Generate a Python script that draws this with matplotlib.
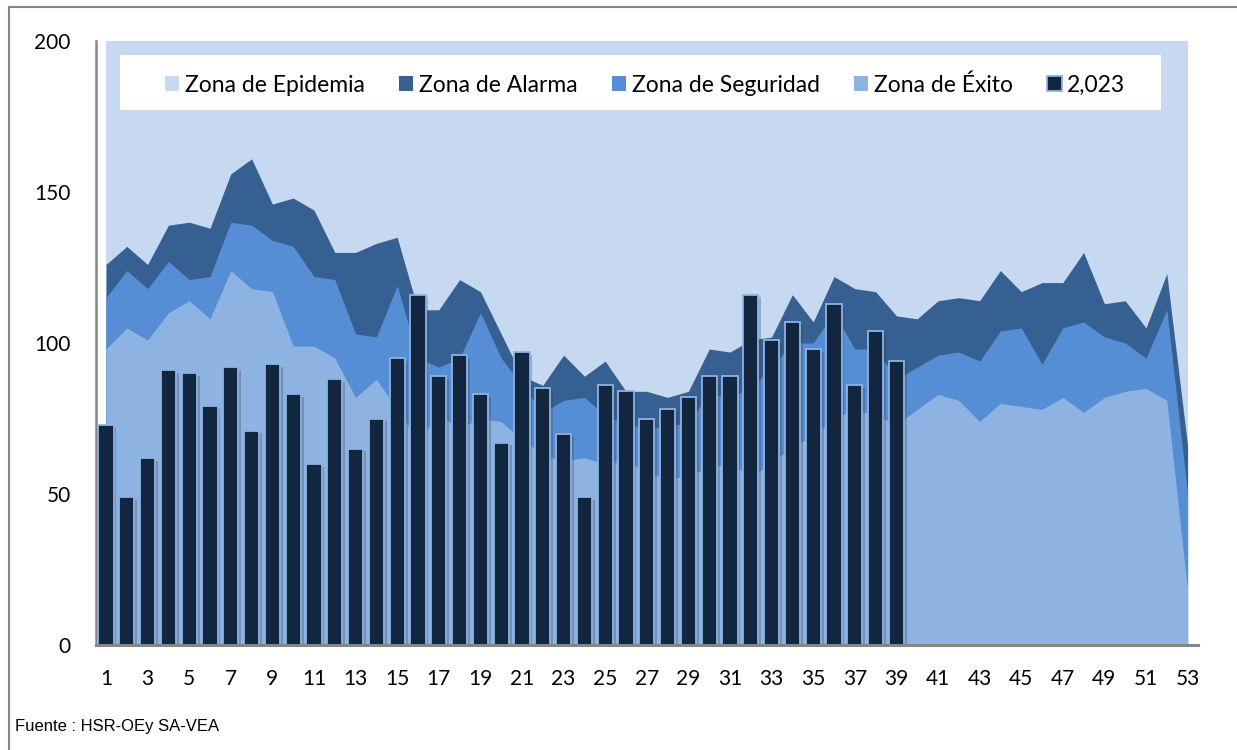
import matplotlib
matplotlib.use("Agg")
import matplotlib.pyplot as plt
from matplotlib.patches import Patch, Rectangle
from matplotlib.lines import Line2D
import matplotlib.patheffects as pe

# ---------------- data ----------------
weeks = list(range(1, 54))
week_labels = [str(w) if w % 2 == 1 else "" for w in weeks]

zona_alarma = [126, 132, 126, 139, 140, 138, 156, 161, 146, 148, 144, 130, 130, 133, 135,
               111, 111, 121, 117, 103, 89, 86, 96, 89, 94, 84, 84, 82, 84, 98, 97, 101,
               102, 116, 107, 122, 118, 117, 109, 108, 114, 115, 114, 124, 117, 120, 120,
               130, 113, 114, 105, 123, 66]
zona_seguridad = [115, 124, 118, 127, 121, 122, 140, 139, 134, 132, 122, 121, 103, 102, 119,
                  95, 92, 95, 110, 95, 86, 77, 81, 82, 76, 73, 72, 72, 74, 83, 82, 85, 92,
                  100, 100, 110, 98, 98, 88, 92, 96, 97, 94, 104, 105, 93, 105, 107, 102,
                  100, 95, 111, 50]
zona_exito = [98, 105, 101, 110, 114, 108, 124, 118, 117, 99, 99, 95, 82, 88, 78, 68, 76, 72,
              75, 74, 68, 63, 61, 62, 60, 61, 57, 55, 56, 59, 60, 56, 60, 66, 69, 75, 78, 76,
              73, 78, 83, 81, 74, 80, 79, 78, 82, 77, 82, 84, 85, 81, 18]
weeks_2023 = list(range(1, 40))
casos_2023 = [73, 49, 62, 91, 90, 79, 92, 71, 93, 83, 60, 88, 65, 75, 95, 116, 89, 96, 83, 67,
              97, 85, 70, 49, 86, 84, 75, 78, 82, 89, 89, 116, 101, 107, 98, 113, 86, 104, 94]

y_ticks = [0, 50, 100, 150, 200]
series_names = ["Zona de Epidemia", "Zona de Alarma", "Zona de Seguridad", "Zona de Éxito", "2,023"]

# ---------------- style ----------------
C_EPI = "#C6D9F1"
C_ALA = "#376092"
C_SEG = "#558ED5"
C_EXI = "#8DB3E2"
C_BAR = "#13263F"
C_BAR_EDGE = "#8DB3E2"
GRAY = "#868686"

plt.rcParams["font.family"] = ["Lato", "DejaVu Sans"]

W, H = 1237, 750
fig = plt.figure(figsize=(W / 100, H / 100), dpi=100)
ax = fig.add_axes([95.6 / W, 1 - 645 / H, (1198 - 95.6) / W, (645 - 41) / H])

ymax = y_ticks[-1]
ax.fill_between(weeks, 0, ymax, color=C_EPI, lw=0, zorder=1)
ax.fill_between(weeks, 0, zona_alarma, color=C_ALA, lw=0, zorder=1.1)
ax.fill_between(weeks, 0, zona_seguridad, color=C_SEG, lw=0, zorder=1.2)
ax.fill_between(weeks, 0, zona_exito, color=C_EXI, lw=0, zorder=1.3)

bars = ax.bar(weeks_2023, casos_2023, width=0.74, color=C_BAR, edgecolor=C_BAR_EDGE,
              linewidth=1.3, zorder=3)
for b in bars:
    b.set_path_effects([pe.SimplePatchShadow(offset=(2, -2), shadow_rgbFace="#404040", alpha=0.3),
                        pe.Normal()])

ax.set_xlim(0.5, 53.5)
ax.set_ylim(0, ymax)
ax.set_yticks(y_ticks)
ax.set_yticklabels([str(v) for v in y_ticks])
ax.set_xticks(weeks)
ax.set_xticklabels(week_labels)
ax.tick_params(axis="both", length=0, labelsize=15, colors="black")
ax.tick_params(axis="y", pad=18)
ax.tick_params(axis="x", pad=17)
ax.set_facecolor("white")
for s in ["top", "right"]:
    ax.spines[s].set_visible(False)
ax.spines["left"].set_color(GRAY)
ax.spines["left"].set_linewidth(1.8)
ax.spines["bottom"].set_color(GRAY)
ax.spines["bottom"].set_linewidth(2.2)
ax.spines["bottom"].set_zorder(4)

# legend box
ax.add_patch(Rectangle((0.022, 0.886), 0.944, 0.091, transform=ax.transAxes,
                       facecolor="white", edgecolor="none", zorder=5))
handles = [Patch(facecolor=C_EPI, edgecolor="none"),
           Patch(facecolor=C_ALA, edgecolor="none"),
           Patch(facecolor=C_SEG, edgecolor="none"),
           Patch(facecolor=C_EXI, edgecolor="none"),
           Patch(facecolor=C_BAR, edgecolor=C_BAR_EDGE, linewidth=1.3)]
leg = ax.legend(handles, series_names, ncol=5, loc="center",
                bbox_to_anchor=(0.4984, 0.927),
                frameon=False, fontsize=16.5, handlelength=0.62, handleheight=0.62,
                handletextpad=0.25, columnspacing=1.5, borderaxespad=0)
leg.set_zorder(6)

# outer frame lines
fig.add_artist(Line2D([9 / W, 9 / W], [0, 1 - 7 / H], transform=fig.transFigure,
                      color=GRAY, lw=1.5))
fig.add_artist(Line2D([9 / W, 1], [1 - 7 / H, 1 - 7 / H], transform=fig.transFigure,
                      color=GRAY, lw=1.5))

fig.text(15 / W, 1 - 727 / H, "Fuente : HSR-OEy SA-VEA", fontsize=12,
         family=["Liberation Sans Narrow", "Liberation Sans", "DejaVu Sans"],
         va="center", ha="left")

fig.savefig("out.png", dpi=100)
